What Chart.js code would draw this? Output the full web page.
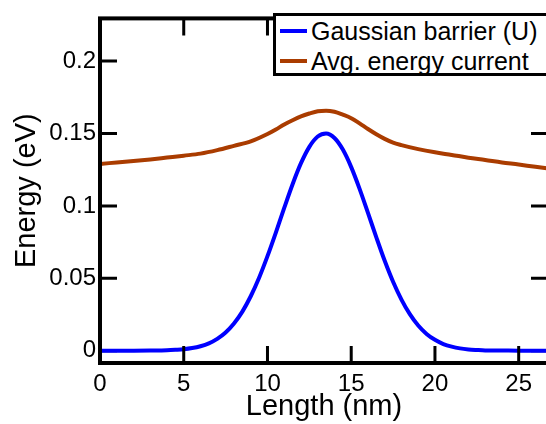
<!DOCTYPE html>
<html>
<head>
<meta charset="utf-8">
<script src="https://cdn.jsdelivr.net/npm/chart.js@4.4.1/dist/chart.umd.min.js"></script>
<style>
    html, body { margin: 0; padding: 0; background: #fff; width: 546px; height: 424px; overflow: hidden; }
    #wrap { position: relative; width: 560px; height: 424px; }
    #legend {
        position: absolute; left: 273px; top: 13px; width: 276px; height: 63px;
        box-sizing: border-box; border: 3px solid #000; background: #fff;
        font-family: 'Liberation Sans', Arial, sans-serif; font-size: 25px; color: #000;
    }
    .row { display: flex; align-items: center; height: 30px; line-height: 30px; white-space: nowrap; }
    .swatch { width: 27px; height: 4px; margin-left: 4px; margin-right: 4px; }
</style>
</head>
<body>
<div id="wrap">
    <canvas id="chart" width="560" height="424"></canvas>
    <div id="legend">
        <div class="row"><span class="swatch" style="background:#0000ff"></span>Gaussian barrier (U)</div>
        <div class="row"><span class="swatch" style="background:#aa3c00"></span>Avg. energy current</div>
    </div>
</div>
<script>
// Gaussian barrier U(x) (nm, eV)
const barrierX = [0, 1, 2, 3, 4, 4.5, 5, 5.5, 6, 6.5, 7, 7.5, 8, 8.5, 9, 9.5, 10, 10.5, 11, 11.5, 12, 12.5, 13, 13.5,
    14, 14.5, 15, 15.5, 16, 16.5, 17, 17.5, 18, 18.5, 19, 19.5, 20, 20.5, 21, 21.5, 22, 22.5, 23, 24, 25, 26, 27];
const barrierU = [0, 0, 0, 0.0001, 0.0003, 0.0006, 0.0010, 0.0018, 0.0031, 0.0051, 0.0082, 0.0126, 0.0188, 0.0270,
    0.0376, 0.0504, 0.0653, 0.0816, 0.0986, 0.1150, 0.1295, 0.1408, 0.1479, 0.1500,
    0.1469, 0.1389, 0.1268, 0.1118, 0.0952, 0.0783, 0.0621, 0.0476, 0.0353, 0.0252, 0.0174, 0.0116,
    0.0075, 0.0046, 0.0028, 0.0016, 0.0009, 0.0005, 0.0002, 0.0001, 0, 0, 0];

// Average energy of the current
const currentX = [0, 1, 2, 3, 4, 5, 6, 7, 8, 9, 10, 10.5, 11, 11.5, 12, 12.5, 13, 13.5, 14, 14.5, 15, 15.5,
    16, 16.5, 17, 17.5, 18, 19, 20, 21, 22, 23, 24, 25, 26, 27];
const currentE = [0.1290, 0.1300, 0.1310, 0.1321, 0.1334, 0.1347, 0.1361, 0.1385, 0.1415, 0.1446, 0.1497, 0.1528,
    0.1563, 0.1592, 0.1618, 0.1638, 0.1654, 0.1658, 0.1650, 0.1630, 0.1606, 0.1570,
    0.1531, 0.1495, 0.1463, 0.1437, 0.1420, 0.1392, 0.1370, 0.1352, 0.1333, 0.1317, 0.1300, 0.1286, 0.1270, 0.1256];

const xTicks = [0, 5, 10, 15, 20, 25];
const yTicks = [0, 0.05, 0.1, 0.15, 0.2];

const FONT = "'Liberation Sans', Arial, sans-serif";
Chart.defaults.font.family = FONT;
Chart.defaults.color = '#000';

// Box frame with inward ticks on all four sides
const framePlugin = {
    id: 'frame',
    beforeDatasetsDraw(chart) {
        const { ctx, chartArea: a, scales: { y } } = chart;
        ctx.save();
        ctx.strokeStyle = '#000';
        ctx.lineWidth = 3;
        ctx.beginPath();
        yTicks.forEach(v => {
            const py = y.getPixelForValue(v);
            ctx.moveTo(a.left, py); ctx.lineTo(a.left + 17, py);
            ctx.moveTo(a.right, py); ctx.lineTo(a.right - 17, py);
        });
        ctx.stroke();
        ctx.restore();
    },
    afterDatasetsDraw(chart) {
        const { ctx, chartArea: a, scales: { x } } = chart;
        ctx.save();
        ctx.strokeStyle = '#000';
        ctx.lineWidth = 3;
        ctx.beginPath();
        xTicks.forEach(v => {
            const px = x.getPixelForValue(v);
            ctx.moveTo(px, a.bottom); ctx.lineTo(px, a.bottom - 17);
            ctx.moveTo(px, a.top); ctx.lineTo(px, a.top + 17);
        });
        ctx.stroke();
        ctx.lineWidth = 4;
        ctx.strokeRect(a.left, a.top, a.right - a.left, a.bottom - a.top);
        ctx.restore();
    }
};

const ctx = document.getElementById('chart').getContext('2d');
new Chart(ctx, {
    type: 'line',
    data: {
        datasets: [{
            label: 'Gaussian barrier (U)',
            data: barrierX.map((v, i) => ({ x: v, y: barrierU[i] })),
            borderColor: '#0000ff',
            borderWidth: 4,
            pointRadius: 0,
            cubicInterpolationMode: 'monotone',
        }, {
            label: 'Avg. energy current',
            data: currentX.map((v, i) => ({ x: v, y: currentE[i] })),
            borderColor: '#aa3c00',
            borderWidth: 4,
            pointRadius: 0,
            cubicInterpolationMode: 'monotone',
        }]
    },
    options: {
        responsive: false,
        animation: false,
        layout: { padding: { top: 9, right: 12, left: 0, bottom: 0 } },
        plugins: {
            legend: { display: false },
            tooltip: { enabled: false }
        },
        scales: {
            x: {
                type: 'linear',
                min: 0,
                max: 26.75,
                afterBuildTicks: s => { s.ticks = xTicks.map(v => ({ value: v })); },
                afterFit: s => { s.height = 61; },
                grid: { display: false, drawTicks: false },
                border: { display: false },
                ticks: { font: { size: 24 }, color: '#000', padding: 7, maxRotation: 0, callback: v => String(v) },
                title: { display: true, text: 'Length (nm)', font: { size: 29 }, color: '#000', padding: 0 }
            },
            y: {
                type: 'linear',
                min: -0.0085,
                max: 0.2295,
                afterBuildTicks: s => { s.ticks = yTicks.map(v => ({ value: v })); },
                afterFit: s => { s.width = 100; },
                grid: { display: false, drawTicks: false },
                border: { display: false },
                ticks: { font: { size: 24 }, color: '#000', padding: 4, callback: v => String(v) },
                title: { display: true, text: 'Energy (eV)', font: { size: 29 }, color: '#000', padding: { top: 10, bottom: 0 } }
            }
        }
    },
    plugins: [framePlugin]
});
</script>
</body>
</html>
